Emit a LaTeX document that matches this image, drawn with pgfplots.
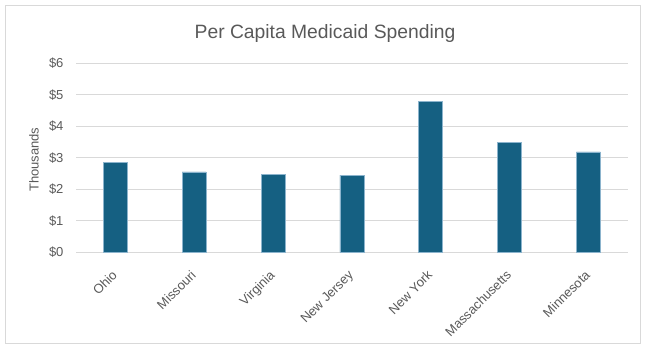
\documentclass[border=0pt]{standalone}
\usepackage{fontspec}
\setmainfont{Liberation Sans}
\usepackage{pgfplots}
\pgfplotsset{compat=1.18}
\definecolor{barcol}{RGB}{21,96,130}
\definecolor{baredge}{RGB}{140,180,205}
\definecolor{txtgray}{RGB}{89,89,89}
\definecolor{gridgray}{RGB}{217,217,217}
\begin{document}
\begin{tikzpicture}[x=1bp,y=1bp]
\path (0,0) rectangle (650,353);
\draw[gridgray, line width=1bp] (5,10) rectangle (640,347);
\node[txtgray, anchor=base, font=\fontsize{19.3bp}{22bp}\selectfont] at (325,315) {Per Capita Medicaid Spending};
\begin{axis}[
  at={(76bp,100.7bp)}, anchor=south west,
  scale only axis, width=551.7bp, height=189bp,
  xmin=-0.5, xmax=6.5, ymin=0, ymax=6,
  ybar, bar width=24bp,
  xtick=data,
  xticklabels={Ohio,Missouri,Virginia,New Jersey,New York,Massachusetts,Minnesota},
  x tick label style={rotate=45, anchor=north east, font=\fontsize{13bp}{15bp}\selectfont, text=txtgray, inner sep=1bp, xshift=-14bp, yshift=-8bp},
  ytick={0,1,2,3,4,5,6},
  yticklabels={\$0,\$1,\$2,\$3,\$4,\$5,\$6},
  y tick label style={font=\fontsize{13bp}{15bp}\selectfont, text=txtgray, xshift=-9bp},
  ylabel={Thousands},
  ylabel style={font=\fontsize{13bp}{15bp}\selectfont, text=txtgray, at={(axis description cs:-0.076,0.49)}, anchor=center},
  ymajorgrids, grid style={gridgray, line width=1bp},
  axis x line*=bottom, axis y line*=left,
  x axis line style={gridgray, line width=1bp},
  y axis line style={draw=none},
  major tick length=0pt,
  tick style={draw=none},
  clip=false,
]
\addplot[fill=barcol, draw=baredge, line width=0.6bp] coordinates {(0,2.86) (1,2.55) (2,2.48) (3,2.45) (4,4.79) (5,3.50) (6,3.19)};
\end{axis}
\end{tikzpicture}
\end{document}
